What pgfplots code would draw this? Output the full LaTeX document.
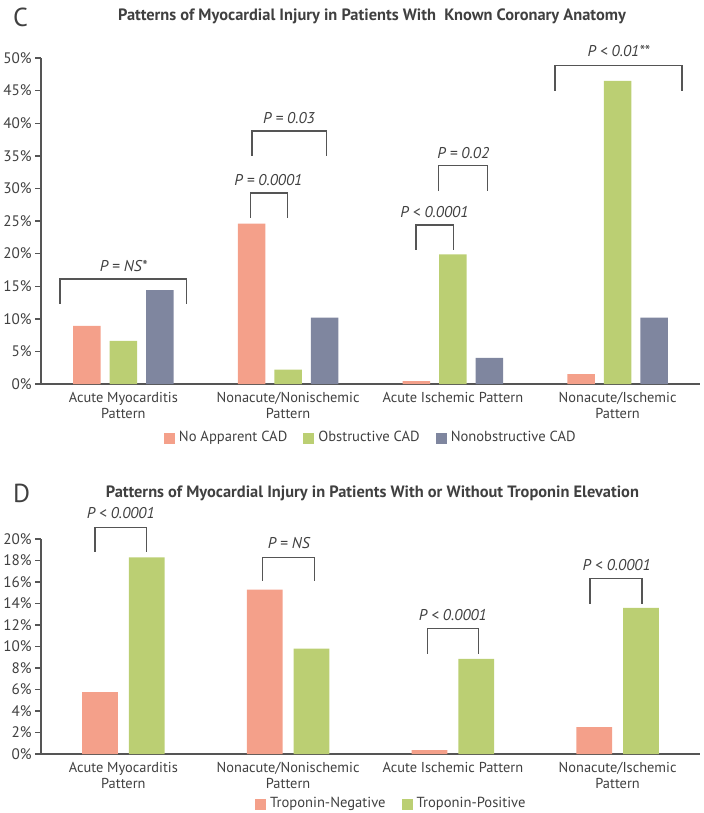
\documentclass[border=0pt]{standalone}
\usepackage{fontspec}
\setmainfont{PT Sans}
\usepackage{pgfplots}
\pgfplotsset{compat=1.18}

\definecolor{noCAD}{HTML}{F4A08A}
\definecolor{obsCAD}{HTML}{BBCF73}
\definecolor{nonobsCAD}{HTML}{7F869F}
\definecolor{axisgray}{HTML}{555555}
\definecolor{txt}{HTML}{404040}

\pgfplotsset{
  injury/.style={
    scale only axis, clip=false,
    axis x line=bottom, axis y line=left,
    axis line style={-, draw=axisgray, line width=0.7pt},
    xmin=-0.5, xmax=3.5, ymin=0,
    xtick={0,1,2,3},
    xticklabels={Acute Myocarditis\\Pattern, Nonacute/Nonischemic\\Pattern,
                 Acute Ischemic Pattern, Nonacute/Ischemic\\Pattern},
    xtick style={draw=none},
    xticklabel style={align=center, font=\fontsize{7.2}{8}\selectfont, text=txt, yshift=2.5pt},
    tick align=outside, major tick length=3pt,
    ytick style={draw=axisgray, line width=0.7pt},
    /pgf/number format/assume math mode=true,
    yticklabel={\pgfmathprintnumber{\tick}\%},
    yticklabel style={font=\fontsize{7.6}{9}\selectfont, text=txt, inner sep=1.5pt},
    ybar, bar width=0.167,
    legend style={draw=none, fill=none, legend columns=-1, anchor=center,
      font=\fontsize{7.3}{8}\selectfont, text=txt,
      /tikz/every even column/.append style={column sep=6pt}},
    legend image code/.code={\fill[##1] (0pt,-2.75pt) rectangle (5.5pt,2.75pt);},
  },
}
\tikzset{
  bracket/.style={draw=axisgray, line width=0.65pt},
  ptext/.style={font=\fontsize{7.8}{9}\selectfont\itshape, text=txt},
}

\begin{document}
\begin{tikzpicture}
\useasboundingbox (0,0) rectangle (351.5pt,-406.5pt);

% panel C
\node[anchor=west, font=\fontsize{13}{14}\selectfont, text=txt] at (3pt,-8.5pt) {C};
\node[font=\fontsize{8.2}{9}\selectfont\bfseries, text=txt] at (186pt,-8pt)
  {Patterns of Myocardial Injury in Patients With \ Known Coronary Anatomy};

\begin{axis}[injury,
  at={(20.5pt,-192pt)}, anchor=south west,
  width=329.5pt, height=163pt,
  ymax=50, ytick={0,5,...,50},
  legend style={at={(0.502,-0.166)}},
]
\addplot[fill=noCAD, draw=none, bar shift=-0.221] coordinates {(0,8.9) (1,24.6) (2,0.45) (3,1.5)};
\addplot[fill=obsCAD, draw=none, bar shift=0] coordinates {(0,6.6) (1,2.2) (2,19.9) (3,46.5)};
\addplot[fill=nonobsCAD, draw=none, bar shift=0.221] coordinates {(0,14.4) (1,10.2) (2,4.0) (3,10.2)};
\legend{No Apparent CAD, Obstructive CAD, Nonobstructive CAD}

\draw[bracket] (axis cs:-0.385,12.3) |- (axis cs:0.385,16.1) -- (axis cs:0.385,12.3);
\node[ptext] at (axis cs:0,18.1) {P = NS*};
\draw[bracket] (axis cs:0.77,25.5) |- (axis cs:0.995,29.3) -- (axis cs:0.995,25.5);
\node[ptext] at (axis cs:0.88,31.3) {P = 0.0001};
\draw[bracket] (axis cs:0.78,35.0) |- (axis cs:1.232,38.8) -- (axis cs:1.232,35.0);
\node[ptext] at (axis cs:1.005,40.8) {P = 0.03};
\draw[bracket] (axis cs:1.777,20.6) |- (axis cs:2.003,24.4) -- (axis cs:2.003,20.6);
\node[ptext] at (axis cs:1.888,26.4) {P < 0.0001};
\draw[bracket] (axis cs:1.912,29.6) |- (axis cs:2.211,33.5) -- (axis cs:2.211,29.6);
\node[ptext] at (axis cs:2.063,35.5) {P = 0.02};
\draw[bracket] (axis cs:2.62,45.0) |- (axis cs:3.39,48.8) -- (axis cs:3.39,45.0);
\node[ptext] at (axis cs:3.006,51.0) {P < 0.01**};
\end{axis}

% panel D
\node[anchor=west, font=\fontsize{13}{14}\selectfont, text=txt] at (3pt,-246.5pt) {D};
\node[font=\fontsize{8.2}{9}\selectfont\bfseries, text=txt] at (186.2pt,-246.5pt)
  {Patterns of Myocardial Injury in Patients With or Without Troponin Elevation};

\begin{axis}[injury,
  at={(20.5pt,-377pt)}, anchor=south west,
  width=329.5pt, height=107.5pt,
  ymax=20, ytick={0,2,...,20},
  bar width=0.218,
  legend style={at={(0.533,-0.233)}},
]
\addplot[fill=noCAD, draw=none, bar shift=-0.142] coordinates {(0,5.75) (1,15.3) (2,0.37) (3,2.5)};
\addplot[fill=obsCAD, draw=none, bar shift=0.142] coordinates {(0,18.3) (1,9.8) (2,8.84) (3,13.6)};
\legend{Troponin-Negative, Troponin-Positive}

\draw[bracket] (axis cs:-0.172,18.8) |- (axis cs:0.139,21.1) -- (axis cs:0.139,18.8);
\node[ptext] at (axis cs:-0.016,22.4) {P < 0.0001};
\draw[bracket] (axis cs:0.846,16.1) |- (axis cs:1.158,18.3) -- (axis cs:1.158,16.1);
\node[ptext] at (axis cs:1.004,19.6) {P = NS};
\draw[bracket] (axis cs:1.844,9.33) |- (axis cs:2.155,11.7) -- (axis cs:2.155,9.33);
\node[ptext] at (axis cs:2.0,12.9) {P < 0.0001};
\draw[bracket] (axis cs:2.833,14.0) |- (axis cs:3.147,16.3) -- (axis cs:3.147,14.0);
\node[ptext] at (axis cs:2.994,17.6) {P < 0.0001};
\end{axis}
\end{tikzpicture}
\end{document}
